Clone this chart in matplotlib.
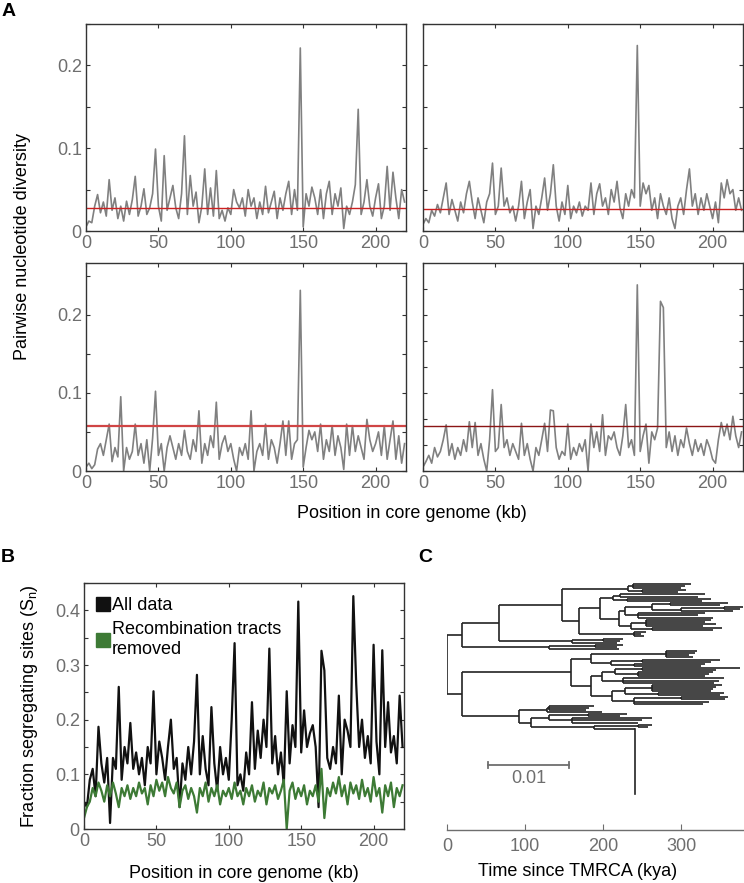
import numpy as np
import matplotlib
matplotlib.use('Agg')
import matplotlib.pyplot as plt
from matplotlib.collections import LineCollection
from matplotlib.lines import Line2D
from matplotlib.ticker import FuncFormatter

plt.rcParams['font.family'] = ['Liberation Sans', 'DejaVu Sans']

# ---- data ----
pos_kb = np.arange(0, 221, 2)

# panel A: pairwise nucleotide diversity, four genome groups
pi_a1 = [0.005, 0.012, 0.010, 0.030, 0.044, 0.022, 0.035, 0.018, 0.062, 0.025,
         0.040, 0.015, 0.030, 0.012, 0.036, 0.020, 0.038, 0.066, 0.018, 0.030,
         0.051, 0.020, 0.028, 0.045, 0.099, 0.030, 0.012, 0.091, 0.025, 0.040,
         0.055, 0.028, 0.015, 0.045, 0.115, 0.020, 0.067, 0.030, 0.047, 0.010,
         0.030, 0.075, 0.020, 0.052, 0.018, 0.073, 0.015, 0.025, 0.012, 0.028,
         0.020, 0.050, 0.035, 0.028, 0.040, 0.018, 0.050, 0.030, 0.040, 0.015,
         0.035, 0.020, 0.054, 0.022, 0.035, 0.048, 0.015, 0.040, 0.025, 0.045,
         0.060, 0.020, 0.050, 0.025, 0.221, 0.005, 0.045, 0.030, 0.053, 0.040,
         0.020, 0.050, 0.015, 0.045, 0.060, 0.020, 0.045, 0.030, 0.052, 0.003,
         0.030, 0.020, 0.035, 0.056, 0.147, 0.020, 0.035, 0.062, 0.030, 0.018,
         0.040, 0.057, 0.015, 0.030, 0.078, 0.025, 0.071, 0.040, 0.015, 0.050,
         0.035]
pi_a2 = [0.008, 0.015, 0.010, 0.025, 0.018, 0.032, 0.022, 0.040, 0.058, 0.020,
         0.038, 0.025, 0.012, 0.035, 0.022, 0.045, 0.060, 0.035, 0.015, 0.040,
         0.025, 0.010, 0.035, 0.045, 0.082, 0.020, 0.030, 0.076, 0.030, 0.040,
         0.022, 0.030, 0.012, 0.030, 0.060, 0.015, 0.035, 0.050, 0.003, 0.030,
         0.020, 0.040, 0.064, 0.025, 0.045, 0.080, 0.030, 0.012, 0.035, 0.020,
         0.055, 0.015, 0.030, 0.022, 0.035, 0.018, 0.030, 0.025, 0.058, 0.020,
         0.045, 0.057, 0.030, 0.040, 0.020, 0.050, 0.035, 0.060, 0.028, 0.015,
         0.045, 0.030, 0.050, 0.040, 0.224, 0.030, 0.058, 0.045, 0.055, 0.025,
         0.040, 0.015, 0.045, 0.030, 0.020, 0.040, 0.015, 0.003, 0.030, 0.040,
         0.020, 0.050, 0.075, 0.030, 0.045, 0.020, 0.040, 0.025, 0.045, 0.030,
         0.015, 0.035, 0.010, 0.058, 0.040, 0.062, 0.045, 0.050, 0.025, 0.040,
         0.025]
pi_a3 = [0.005, 0.010, 0.003, 0.008, 0.028, 0.035, 0.020, 0.040, 0.060, 0.012,
         0.030, 0.018, 0.095, 0.000, 0.030, 0.015, 0.025, 0.060, 0.020, 0.035,
         0.010, 0.040, 0.000, 0.042, 0.102, 0.020, 0.035, 0.000, 0.030, 0.045,
         0.030, 0.015, 0.035, 0.020, 0.052, 0.025, 0.015, 0.040, 0.025, 0.077,
         0.010, 0.035, 0.020, 0.045, 0.030, 0.088, 0.015, 0.035, 0.045, 0.025,
         0.035, 0.015, 0.000, 0.030, 0.020, 0.035, 0.015, 0.077, 0.000, 0.025,
         0.035, 0.020, 0.060, 0.015, 0.040, 0.030, 0.010, 0.035, 0.064, 0.020,
         0.064, 0.015, 0.035, 0.040, 0.231, 0.005, 0.030, 0.052, 0.040, 0.050,
         0.025, 0.060, 0.015, 0.040, 0.025, 0.058, 0.020, 0.045, 0.030, 0.002,
         0.060, 0.020, 0.058, 0.025, 0.045, 0.030, 0.015, 0.066, 0.040, 0.025,
         0.035, 0.050, 0.020, 0.058, 0.015, 0.040, 0.064, 0.015, 0.045, 0.010,
         0.035]
pi_a4 = [0.005, 0.012, 0.020, 0.010, 0.030, 0.018, 0.025, 0.040, 0.059, 0.020,
         0.035, 0.015, 0.030, 0.020, 0.040, 0.025, 0.063, 0.030, 0.062, 0.020,
         0.035, 0.015, 0.000, 0.040, 0.104, 0.025, 0.030, 0.085, 0.030, 0.040,
         0.020, 0.035, 0.025, 0.015, 0.061, 0.020, 0.035, 0.015, 0.000, 0.030,
         0.020, 0.040, 0.061, 0.025, 0.078, 0.077, 0.030, 0.015, 0.025, 0.020,
         0.060, 0.015, 0.030, 0.020, 0.035, 0.025, 0.040, 0.000, 0.060, 0.030,
         0.050, 0.025, 0.072, 0.020, 0.045, 0.040, 0.050, 0.030, 0.020, 0.045,
         0.085, 0.030, 0.040, 0.020, 0.238, 0.025, 0.045, 0.060, 0.010, 0.050,
         0.040, 0.055, 0.217, 0.209, 0.030, 0.050, 0.025, 0.045, 0.020, 0.040,
         0.030, 0.055, 0.035, 0.020, 0.040, 0.025, 0.035, 0.020, 0.040, 0.030,
         0.015, 0.010, 0.040, 0.062, 0.045, 0.060, 0.040, 0.070, 0.045, 0.030,
         0.050]
pi_means = [0.028, 0.027, 0.058, 0.058]

# panel B: fraction of segregating sites
sn_all = [0.050, 0.040, 0.090, 0.110, 0.060, 0.187, 0.120, 0.085, 0.130, 0.011,
          0.130, 0.110, 0.260, 0.090, 0.150, 0.120, 0.194, 0.110, 0.140, 0.100,
          0.130, 0.080, 0.150, 0.120, 0.252, 0.100, 0.160, 0.130, 0.090, 0.150,
          0.200, 0.110, 0.130, 0.040, 0.120, 0.090, 0.150, 0.100, 0.160, 0.282,
          0.100, 0.170, 0.110, 0.080, 0.223, 0.120, 0.070, 0.150, 0.100, 0.130,
          0.090, 0.200, 0.340, 0.080, 0.100, 0.070, 0.140, 0.100, 0.232, 0.110,
          0.180, 0.130, 0.200, 0.150, 0.330, 0.120, 0.170, 0.100, 0.140, 0.080,
          0.252, 0.120, 0.190, 0.150, 0.416, 0.140, 0.217, 0.150, 0.175, 0.190,
          0.150, 0.040, 0.326, 0.290, 0.130, 0.110, 0.150, 0.120, 0.244, 0.100,
          0.200, 0.180, 0.150, 0.426, 0.265, 0.150, 0.200, 0.130, 0.170, 0.120,
          0.337, 0.160, 0.100, 0.327, 0.150, 0.232, 0.140, 0.170, 0.120, 0.244,
          0.150]
sn_norec = [0.020, 0.040, 0.050, 0.075, 0.060, 0.085, 0.070, 0.050, 0.080, 0.060,
            0.085, 0.065, 0.040, 0.075, 0.060, 0.080, 0.055, 0.075, 0.060, 0.085,
            0.065, 0.075, 0.045, 0.080, 0.060, 0.090, 0.070, 0.085, 0.060, 0.095,
            0.075, 0.065, 0.085, 0.040, 0.070, 0.080, 0.055, 0.075, 0.060, 0.030,
            0.075, 0.060, 0.085, 0.050, 0.075, 0.060, 0.080, 0.045, 0.070, 0.060,
            0.075, 0.055, 0.085, 0.060, 0.070, 0.045, 0.075, 0.060, 0.080, 0.050,
            0.070, 0.060, 0.085, 0.045, 0.075, 0.065, 0.080, 0.055, 0.070, 0.090,
            0.000, 0.070, 0.085, 0.055, 0.075, 0.060, 0.080, 0.045, 0.070, 0.060,
            0.080, 0.050, 0.110, 0.020, 0.075, 0.060, 0.085, 0.065, 0.095, 0.060,
            0.080, 0.045, 0.085, 0.065, 0.080, 0.055, 0.090, 0.060, 0.075, 0.050,
            0.095, 0.060, 0.075, 0.030, 0.080, 0.060, 0.085, 0.040, 0.075, 0.060,
            0.080]

# panel C: tree, internal node = (time_kya, [children]), leaf = tip time
clade_top = (232, [(238, [312, 305, 300]), (250, [306, 296])])
clade_m1a = (213, [(222, [330, 322]), (230, [338, 326])])
clade_m1b = (220, [(228, [(262, [(285, [360, 350]), (300, [(355, [380, 375]), 366])]),
                          (245, [330, 322, 340])]),
                   (235, [(255, [338, 330, 345, 328]), (262, [352, 340])])])
clade_m = (169, [(196, [clade_m1a, clade_m1b]), (240, [255, 248, 252])])
clade_a1 = (66, [(147, [clade_top, clade_m]), (160, [(200, [225, 222]), 218])])
clade_a = (19, [clade_a1, (131, [(190, [225, 218]), 220])])
clade_b1a = (185, [(280, [320, 318, 310, 315]),
                   (210, [(250, [350, 338]), (240, [330, 325])])])
clade_b1b = (185, [(198, [(215, [(250, [375, 345]), (245, [340, 335, 330])]),
                          (225, [355, 348, 342])]),
                   (211, [(228, [(262, [352, 345, 340, 338]), (270, [355, 350])]),
                          (240, [(300, [360, 356]), 335, 328])])])
clade_b2 = (92, [(128, [(130, [188, 182, 178]), 198]),
                 (108, [(130, [(180, [230, 222]), (160, [262, 250, 245])]),
                        (188, [(245, [262, 258]), 241])])])
clade_b = (19, [(159, [clade_b1a, clade_b1b]), clade_b2])
tree = (0, [clade_a, clade_b])
outgroup_kya = 241
scale_bar_kya = (53, 156)

grey_line = '#808080'
tick_grey = '#6e6e6e'
spine_col = '#333333'
FS = 13


def style_axes(ax, labels_y=True):
    for s in ax.spines.values():
        s.set_color(spine_col)
        s.set_linewidth(1.0)
    ax.tick_params(direction='in', length=3, width=0.8, color=spine_col,
                   top=True, right=True, labelsize=FS, labelcolor=tick_grey, pad=3)
    if not labels_y:
        ax.tick_params(labelleft=False)


def yfmt(step):
    def f(v, _):
        if abs(v) < 1e-9:
            return '0'
        if abs(v / step - round(v / step)) < 1e-6:
            return f'{v:.1f}'
        return ''
    return FuncFormatter(f)


fig = plt.figure(figsize=(7.44, 8.83), dpi=100)
W, H = 744, 883


def px_axes(l, t, r, b):
    return fig.add_axes([l / W, 1 - b / H, (r - l) / W, (b - t) / H])


a_boxes = [(86, 24, 406, 231), (423, 24, 743, 231),
           (86, 263, 406, 471), (423, 263, 743, 471)]
a_series = [pi_a1, pi_a2, pi_a3, pi_a4]
a_mean_cols = ['#cc2020', '#cc2020', '#d04545', '#8b1515']
a_mean_lw = [1.0, 1.0, 1.6, 1.0]
for i, (box, ser) in enumerate(zip(a_boxes, a_series)):
    ax = px_axes(*box)
    ax.plot(pos_kb, ser, color=grey_line, lw=1.2)
    ax.axhline(pi_means[i], color=a_mean_cols[i], lw=a_mean_lw[i])
    ax.set_xlim(0, 221)
    if i < 2:
        ax.set_ylim(0, 0.25)
        ax.set_yticks(np.arange(0, 0.251, 0.05))
    elif i == 2:
        ax.set_ylim(0, 0.266)
        ax.set_yticks(np.arange(0, 0.26, 0.05))
    else:
        ax.set_ylim(0, 0.266)
        ax.set_yticks(np.arange(0, 0.266, 0.0333))
    ax.yaxis.set_major_formatter(yfmt(0.1))
    ax.set_xticks([0, 50, 100, 150, 200])
    style_axes(ax, labels_y=(i % 2 == 0))

fig.text(23 / W, 1 - 247 / H, 'Pairwise nucleotide diversity', rotation=90,
         ha='center', va='center', fontsize=FS)
fig.text(412 / W, 1 - 513 / H, 'Position in core genome (kb)',
         ha='center', va='center', fontsize=FS)

# panel B
axb = px_axes(84, 583, 404, 829)
axb.plot(pos_kb, sn_all, color='#111111', lw=1.6)
axb.plot(pos_kb, sn_norec, color='#3d7a35', lw=1.6)
axb.set_xlim(0, 221)
axb.set_ylim(0, 0.45)
axb.set_yticks(np.arange(0, 0.451, 0.05))
axb.yaxis.set_major_formatter(yfmt(0.1))
axb.set_xticks([0, 50, 100, 150, 200])
style_axes(axb)
axb.set_xlabel('Position in core genome (kb)', fontsize=FS, labelpad=11)
axb.set_ylabel('Fraction segregating sites (S$_\\mathregular{n}$)', fontsize=FS, labelpad=11)
handles = [Line2D([], [], ls='none', marker='s', ms=10, color='#111111'),
           Line2D([], [], ls='none', marker='s', ms=10, color='#3d7a35')]
axb.legend(handles, ['All data', 'Recombination tracts\nremoved'], loc='upper left',
           bbox_to_anchor=(11 / 320, 1 - 14 / 246), frameon=False, fontsize=FS,
           handletextpad=0.05, borderaxespad=0, borderpad=0,
           handlelength=0.9, labelspacing=0.4)

# panel C: tree
segs = []
counter = [0]


def layout(node, parent_t):
    if isinstance(node, tuple):
        t, kids = node
        ys = [layout(k, t) for k in kids]
        y = (ys[0] + ys[-1]) / 2
        segs.append([(t, ys[0]), (t, ys[-1])])
    else:
        t = node
        y = counter[0]
        counter[0] += 1
    if parent_t is not None:
        segs.append([(parent_t, y), (t, y)])
    return y


layout(tree, None)
n_leaf = counter[0]
sp = (728 - 582) / (n_leaf - 1)  # px per leaf

axc = px_axes(447, 583, 743, 830)
axc.add_collection(LineCollection(segs, colors='#222222', linewidths=1.2))
axc.plot([outgroup_kya, outgroup_kya], [n_leaf - 1, n_leaf - 1 + 66 / sp],
         color='#222222', lw=1.2)
ybar = n_leaf - 1 + (764 - 728) / sp
axc.plot(scale_bar_kya, [ybar, ybar], color=tick_grey, lw=1.3)
for xb in scale_bar_kya:
    axc.plot([xb, xb], [ybar - 3 / sp, ybar + 3 / sp], color=tick_grey, lw=1.3)
axc.text(np.mean(scale_bar_kya), ybar + 14 / sp, '0.01', ha='center', va='center',
         fontsize=FS, color=tick_grey)
axc.set_xlim(0, 379)
axc.set_ylim((830 - 582) / sp, -1 / sp)
for s in ['top', 'right', 'left']:
    axc.spines[s].set_visible(False)
axc.spines['bottom'].set_color(tick_grey)
axc.spines['bottom'].set_linewidth(1.0)
axc.set_yticks([])
axc.set_xticks([0, 100, 200, 300])
axc.tick_params(axis='x', direction='in', length=4, color=tick_grey,
                labelsize=FS, labelcolor=tick_grey, pad=6)
fig.text(578 / W, 1 - 872 / H, 'Time since TMRCA (kya)', ha='center', va='center',
         fontsize=FS)

# panel letters
for lab, x, y in [('A', 2, 12), ('B', 1, 558), ('C', 418, 558)]:
    fig.text(x / W, 1 - y / H, lab, ha='left', va='center', fontsize=14,
             fontweight='bold')

fig.savefig('out.png', dpi=100)
